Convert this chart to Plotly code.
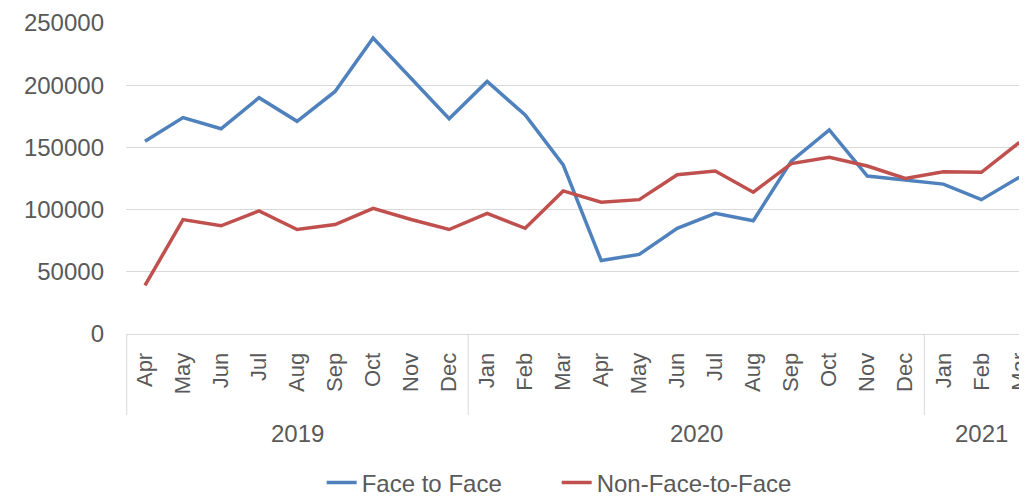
import plotly.graph_objects as go

months = ["Apr", "May", "Jun", "Jul", "Aug", "Sep", "Oct", "Nov", "Dec",
          "Jan", "Feb", "Mar", "Apr", "May", "Jun", "Jul", "Aug", "Sep", "Oct", "Nov", "Dec",
          "Jan", "Feb", "Mar"]
years = ["2019", "2020", "2021"]
year_counts = [9, 12, 3]

face_to_face = [155000, 174000, 165000, 190000, 171000, 195000, 238000, 205000, 173000,
                203000, 176000, 136000, 59000, 64000, 85000, 97000, 91000, 139000, 164000,
                127000, 123500, 120500, 108000, 126000]
non_face = [39000, 92000, 87000, 99000, 84000, 88000, 101000, 92000, 84000,
            97000, 85000, 115000, 106000, 108000, 128000, 131000, 114000, 137000, 142000,
            135000, 125000, 130500, 130000, 154000]

x = list(range(len(months)))
grey = "#595959"
font_family = "Liberation Sans, Arial, sans-serif"

fig = go.Figure()
fig.add_trace(go.Scatter(x=x, y=face_to_face, mode="lines", name="Face to Face",
                         line=dict(color="#4F81BD", width=3.5)))
fig.add_trace(go.Scatter(x=x, y=non_face, mode="lines", name="Non-Face-to-Face",
                         line=dict(color="#C0504D", width=3.5)))

plot_h = 311
shapes = []
annotations = []
start = 0
bounds = [-0.5]
for yr, cnt in zip(years, year_counts):
    end = start + cnt
    bounds.append(end - 0.5)
    annotations.append(dict(x=(start + end - 1) / 2, y=0, xref="x", yref="paper",
                            text=yr, showarrow=False, yanchor="middle", yshift=-99,
                            font=dict(size=24, color=grey, family=font_family)))
    start = end
for b in bounds[:-1]:
    xx = b + (0.02 if b < 0 else 0)
    shapes.append(dict(type="line", xref="x", yref="paper", x0=xx, x1=xx,
                       y0=0, y1=-81 / plot_h,
                       line=dict(color="#d9d9d9", width=1)))

fig.update_layout(
    width=1019, height=489,
    margin=dict(l=118, r=0, t=15, b=163, autoexpand=False),
    paper_bgcolor="white", plot_bgcolor="white",
    font=dict(family=font_family, color=grey, size=22),
    showlegend=True,
    legend=dict(orientation="h", x=0.478, xanchor="center", y=-149 / plot_h, yanchor="middle",
                font=dict(size=24, color=grey), entrywidth=190),
    shapes=shapes,
    annotations=annotations,
    xaxis=dict(range=[-0.5, 23.2], tickvals=x, ticktext=months, tickangle=-90,
               showgrid=False, showline=True, linecolor="#d9d9d9", linewidth=1,
               ticks="", tickfont=dict(size=22, color=grey), zeroline=False,
               automargin=False, ticklabelstandoff=9, ticklabeloverflow="allow"),
    yaxis=dict(range=[0, 250000], tickvals=[0, 50000, 100000, 150000, 200000, 250000],
               ticktext=["0", "50000", "100000", "150000", "200000", "250000"],
               showgrid=True, gridcolor="#d9d9d9", gridwidth=1, zeroline=False,
               tickfont=dict(size=24, color=grey), ticklabelstandoff=21, ticks="",
               automargin=False),
)

fig.write_html("out.html")
